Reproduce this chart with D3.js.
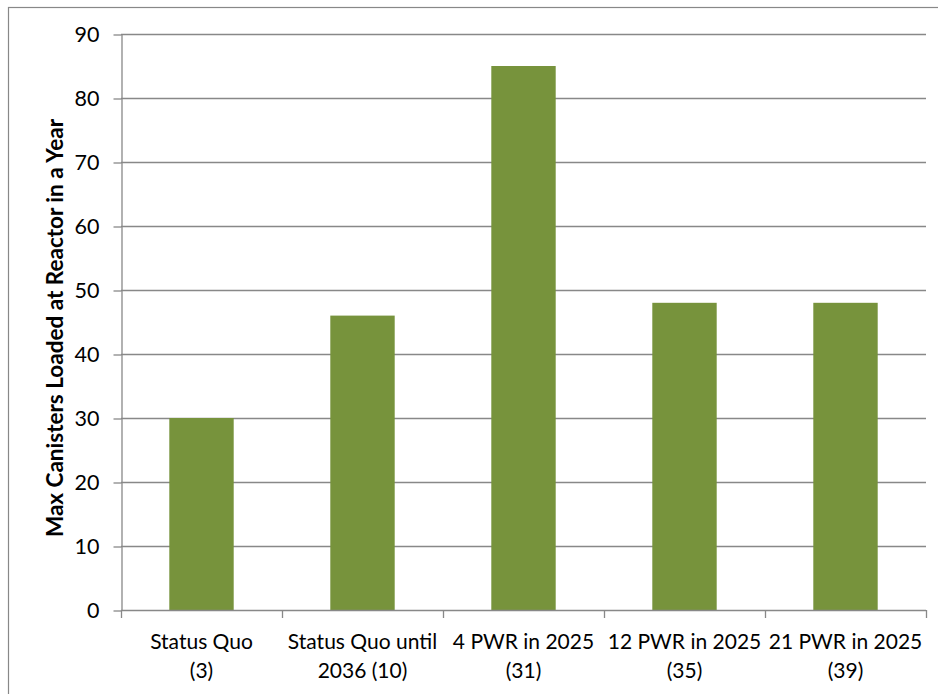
<!DOCTYPE html>
<html>
<head>
<meta charset="utf-8">
<script src="https://cdn.jsdelivr.net/npm/d3@7/dist/d3.min.js"></script>
<style>
  html, body { margin: 0; padding: 0; background: #fff; }
  svg { display: block; }
  text { font-family: Lato, "Open Sans", sans-serif; fill: #000; }
</style>
</head>
<body>
<script>
// Scenario names (two lines each) and the maximum canisters loaded per year
const categories = ["Status Quo (3)", "Status Quo until 2036 (10)", "4 PWR in 2025 (31)", "12 PWR in 2025 (35)", "21 PWR in 2025 (39)"];
const categoryLines = [
  ["Status Quo", "(3)"],
  ["Status Quo until", "2036 (10)"],
  ["4 PWR in 2025", "(31)"],
  ["12 PWR in 2025", "(35)"],
  ["21 PWR in 2025", "(39)"]
];
const maxCanisters = [30, 46, 85, 48, 48];
const yTicks = [0, 10, 20, 30, 40, 50, 60, 70, 80, 90];
const yTitle = "Max Canisters Loaded at Reactor in a Year";

const W = 938, H = 694;
const plot = { left: 121, right: 926, top: 34, bottom: 610 };
const barColor = "#77933c";
const gridColor = "#888888";

const svg = d3.select("body").append("svg").attr("width", W).attr("height", H);

// outer chart frame
svg.append("rect")
  .attr("x", 8.5).attr("y", 7.5)
  .attr("width", W + 20).attr("height", H + 20)
  .attr("fill", "#fff").attr("stroke", gridColor).attr("stroke-width", 1.2);

const x = d3.scaleBand()
  .domain(categories)
  .range([plot.left, plot.right])
  .paddingInner(0.6)
  .paddingOuter(0.3);

const y = d3.scaleLinear().domain([0, 90]).range([plot.bottom, plot.top]);

// horizontal gridlines
svg.append("g")
  .selectAll("line")
  .data(yTicks.filter(d => d > 0))
  .join("line")
  .attr("x1", plot.left).attr("x2", plot.right)
  .attr("y1", d => Math.round(y(d)) + 0.5).attr("y2", d => Math.round(y(d)) + 0.5)
  .attr("stroke", gridColor).attr("stroke-width", 1.3);

// bars
svg.append("g")
  .selectAll("rect")
  .data(maxCanisters)
  .join("rect")
  .attr("x", (d, i) => x(categories[i]))
  .attr("width", x.bandwidth())
  .attr("y", d => y(d))
  .attr("height", d => y(0) - y(d))
  .attr("fill", barColor);

// y axis
const yAxis = svg.append("g")
  .attr("transform", `translate(${plot.left + 0.5},0.5)`)
  .call(d3.axisLeft(y).tickValues(yTicks).tickSize(8).tickSizeOuter(0).tickPadding(14));
yAxis.select(".domain").attr("stroke", gridColor).attr("stroke-width", 1.3);
yAxis.selectAll(".tick line").attr("stroke", gridColor).attr("stroke-width", 1.3);
yAxis.selectAll(".tick text")
  .attr("font-size", 21.5).attr("font-family", "Lato, 'Open Sans', sans-serif").attr("fill", "#000");

// x axis baseline and tick marks at the category boundaries
const edges = d3.range(categories.length + 1)
  .map(i => plot.left + (plot.right - plot.left) * i / categories.length);

const xAxis = svg.append("g");
xAxis.append("line")
  .attr("x1", plot.left).attr("x2", plot.right)
  .attr("y1", plot.bottom + 0.5).attr("y2", plot.bottom + 0.5)
  .attr("stroke", gridColor).attr("stroke-width", 1.3);
xAxis.selectAll("line.edge")
  .data(edges)
  .join("line")
  .attr("class", "edge")
  .attr("x1", d => Math.round(d) + 0.5).attr("x2", d => Math.round(d) + 0.5)
  .attr("y1", plot.bottom).attr("y2", plot.bottom + 8)
  .attr("stroke", gridColor).attr("stroke-width", 1.3);

// category labels
const labels = svg.append("g")
  .selectAll("text")
  .data(categories)
  .join("text")
  .attr("text-anchor", "middle")
  .attr("font-size", 21)
  .attr("transform", d => `translate(${x(d) + x.bandwidth() / 2},0)`);
labels.each(function(d, i) {
  const t = d3.select(this);
  categoryLines[i].forEach((line, j) => {
    t.append("tspan").attr("x", 0).attr("y", 649 + j * 29).text(line);
  });
});

// y axis title
svg.append("text")
  .attr("transform", `translate(63,328) rotate(-90)`)
  .attr("text-anchor", "middle")
  .attr("font-size", 22.5)
  .attr("font-weight", "bold")
  .text(yTitle);
</script>
</body>
</html>
